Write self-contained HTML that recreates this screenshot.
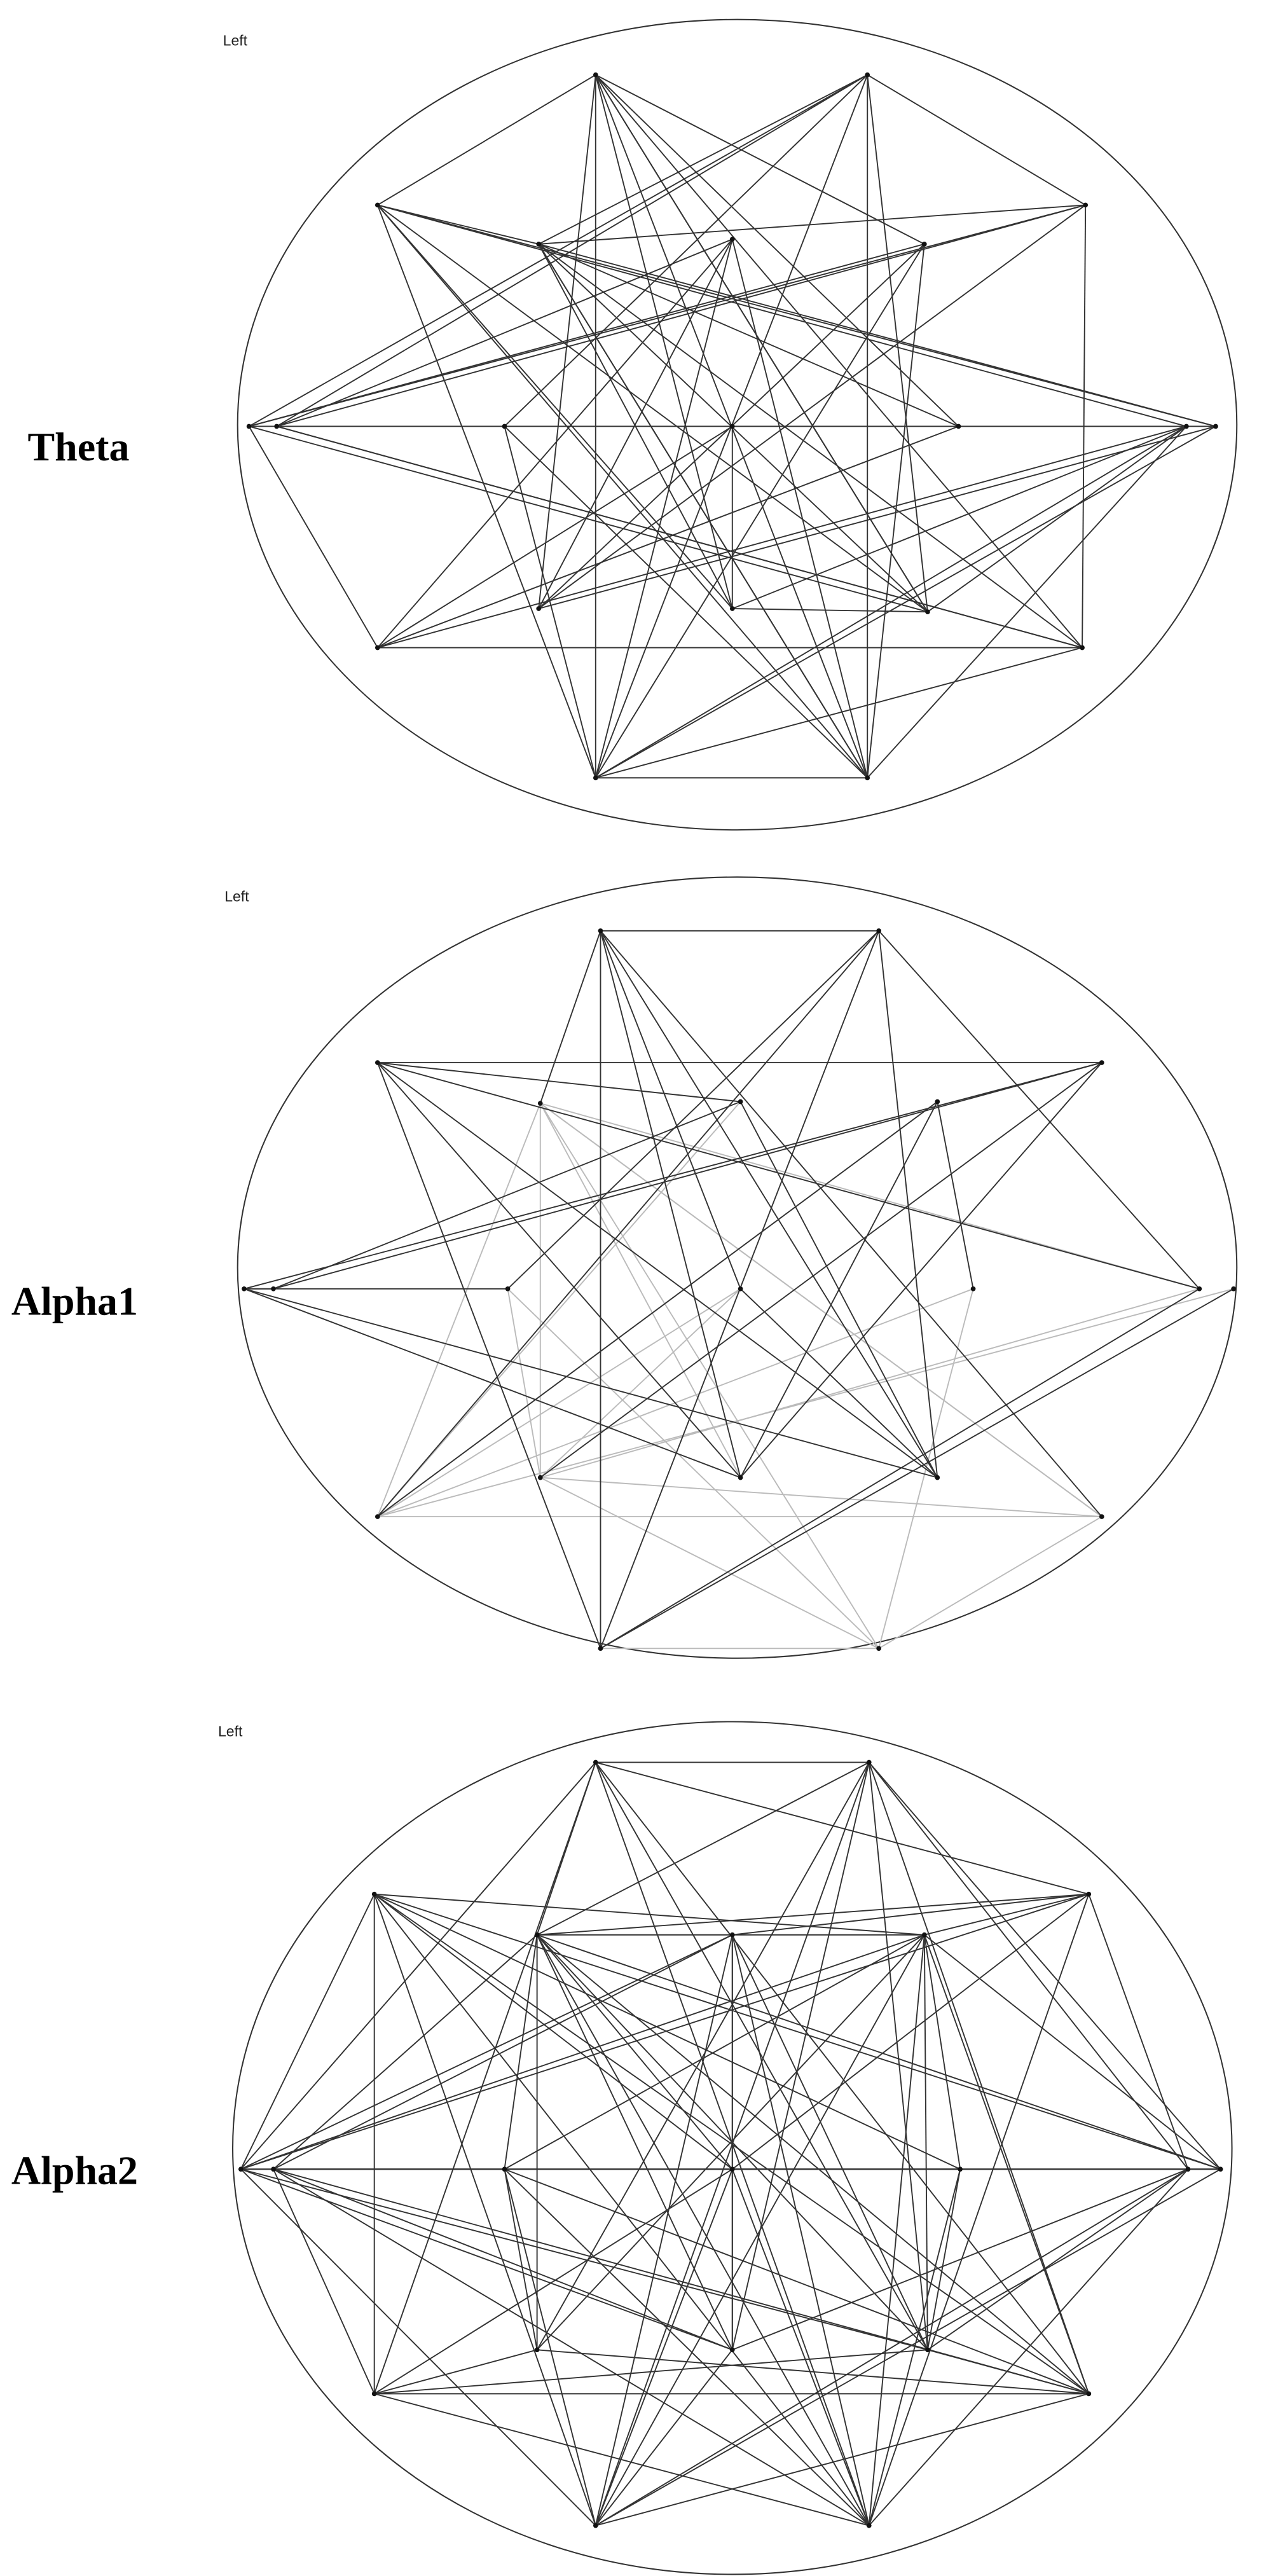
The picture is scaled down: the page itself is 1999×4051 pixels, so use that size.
<!DOCTYPE html>
<html><head><meta charset="utf-8"><style>
html,body{margin:0;padding:0;background:#fff;width:1999px;height:4051px;overflow:hidden}
svg{display:block}
</style></head><body>
<svg id="s" width="1999" height="4051" viewBox="0 0 781 1583" preserveAspectRatio="none" xmlns="http://www.w3.org/2000/svg">
<rect width="781" height="1583" fill="#fff"/>
<g font-family="Liberation Sans, sans-serif" font-size="9" fill="#222">
<text x="137" y="28">Left</text>
<text x="138" y="554">Left</text>
<text x="134" y="1067">Left</text>
</g>
<g font-family="Liberation Serif, serif" font-weight="bold" font-size="25" fill="#000">
<text x="17" y="283">Theta</text>
<text x="7" y="808">Alpha1</text>
<text x="7" y="1342">Alpha2</text>
</g>
<g fill="none" stroke="#333" stroke-width="0.8">
<ellipse cx="453" cy="261" rx="307" ry="249"/>
<ellipse cx="453" cy="779" rx="307" ry="240"/>
<ellipse cx="450" cy="1320" rx="307" ry="262"/>
</g>
<g id="edges"></g>
<g id="nodes" fill="#111"></g>
</svg>
<script>
var P=[
[[366,46],[533,46],[232,126],[667,126],[331,150],[450,147],[568,150],[153,262],[170,262],[310,262],[450,262],[589,262],[729,262],[747,262],[232,398],[665,398],[331,374],[450,374],[570,376],[366,478],[533,478]],
[[369,572],[540,572],[232,653],[677,653],[332,678],[455,677],[576,677],[150,792],[168,792],[312,792],[455,792],[598,792],[737,792],[758,792],[232,932],[677,932],[332,908],[455,908],[576,908],[369,1013],[540,1013]],
[[366,1083],[534,1083],[230,1164],[669,1164],[330,1189],[450,1189],[568,1189],[148,1333],[168,1333],[310,1333],[450,1333],[590,1333],[730,1333],[750,1333],[230,1471],[669,1471],[330,1444],[450,1444],[570,1444],[366,1552],[534,1552]]];
var E0=[[0,2],[0,19],[0,16],[0,17],[0,18],[0,20],[0,11],[0,15],[0,6],[1,7],[1,8],[1,3],[1,18],[1,19],[1,9],[1,4],[2,12],[2,19],[2,20],[2,18],[2,17],[2,4],[3,7],[3,8],[3,4],[3,15],[4,13],[4,11],[4,20],[4,18],[4,17],[7,14],[7,12],[7,18],[7,6],[8,15],[8,5],[8,13],[9,19],[10,17],[10,14],[14,11],[14,15],[14,12],[14,5],[15,8],[15,19],[17,12],[17,18],[19,20],[19,12],[19,13],[19,6],[20,12],[20,5],[20,1],[2,13],[4,20],[0,18],[5,16],[6,16],[9,20],[10,13],[3,16],[16,13],[18,12],[4,15],[5,19],[6,20]];
var E1=[[0,19],[0,1],[0,4],[0,18],[0,15],[0,17],[1,14],[1,9],[1,12],[1,18],[1,19],[2,3],[2,12],[2,19],[2,18],[2,17],[2,5],[7,3],[8,3],[7,9],[7,8],[7,18],[7,17],[8,5],[3,16],[3,17],[6,11],[6,17],[12,19],[13,19],[6,14],[0,10],[5,18],[10,18]];
var L1=[[4,16],[4,14],[4,15],[4,12],[4,20],[9,20],[14,15],[14,6],[14,11],[14,13],[16,12],[16,20],[10,14],[10,16],[15,20],[19,20],[15,4],[11,20],[9,16],[5,14],[16,15],[4,17]];
var E2=[];
var seed=7;function rnd(){seed=(seed*16807)%2147483647;return seed/2147483647;}
for(var i=0;i<21;i++)for(var j=i+1;j<21;j++){if(rnd()<0.5)E2.push([i,j]);}
var g=document.getElementById('edges'),n=document.getElementById('nodes'),ns='http://www.w3.org/2000/svg';
function line(p,a,b,c,w){var l=document.createElementNS(ns,'line');l.setAttribute('x1',p[a][0]);l.setAttribute('y1',p[a][1]);l.setAttribute('x2',p[b][0]);l.setAttribute('y2',p[b][1]);l.setAttribute('stroke',c);l.setAttribute('stroke-width',w);g.appendChild(l);}
E0.forEach(function(e){line(P[0],e[0],e[1],'#333',0.75)});
L1.forEach(function(e){line(P[1],e[0],e[1],'#bbb',0.75)});
E1.forEach(function(e){line(P[1],e[0],e[1],'#333',0.75)});
E2.forEach(function(e){line(P[2],e[0],e[1],'#333',0.75)});
P.forEach(function(p){p.forEach(function(q){var c=document.createElementNS(ns,'circle');c.setAttribute('cx',q[0]);c.setAttribute('cy',q[1]);c.setAttribute('r',1.5);n.appendChild(c);});});
</script>
</body></html>
